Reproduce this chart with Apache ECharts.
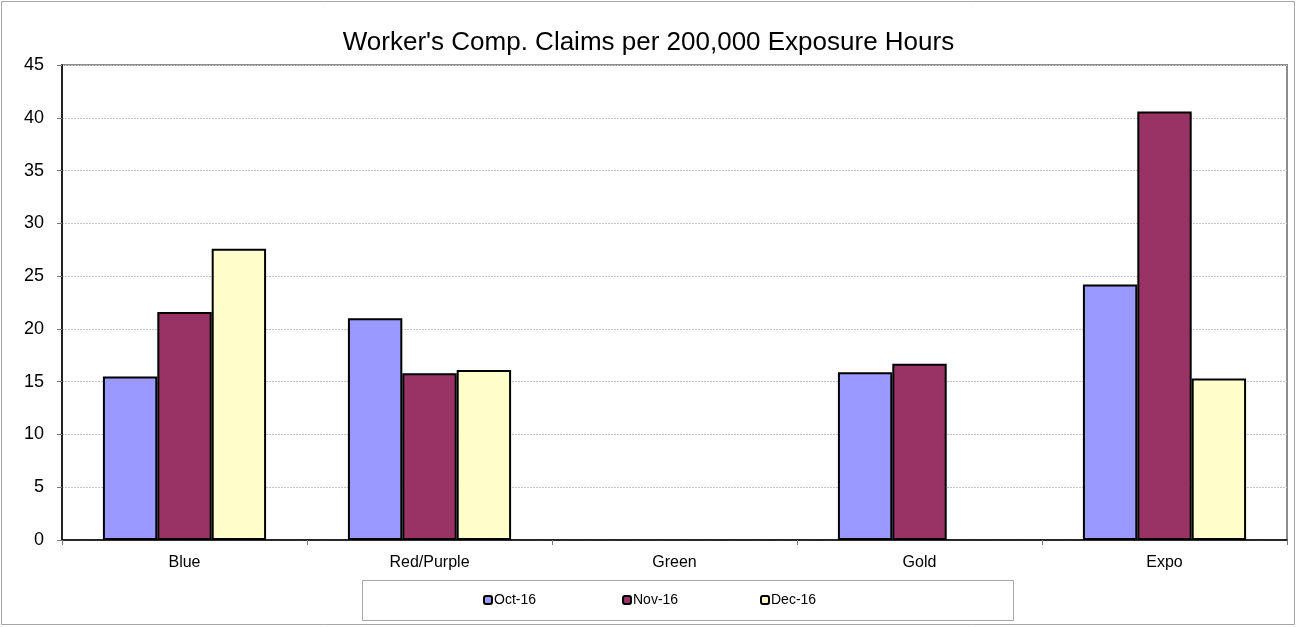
<!DOCTYPE html>
<html>
<head>
<meta charset="utf-8">
<title>Worker's Comp. Claims</title>
<script src="https://cdn.jsdelivr.net/npm/echarts@6/dist/echarts.min.js"></script>
<style>
  html, body { margin: 0; padding: 0; background: #fff; }
  #chart { width: 1297px; height: 627px; }
</style>
</head>
<body>
<div id="chart"></div>
<script>
// Departments along the x axis
const categories = ['Blue', 'Red/Purple', 'Green', 'Gold', 'Expo'];
// Claims per 200,000 exposure hours, one array per month (null = no bar)
const oct16 = [15.5, 21.0, null, 15.9, 24.2];
const nov16 = [21.6, 15.8, null, 16.7, 40.6];
const dec16 = [27.6, 16.1, null, null, 15.3];
const monthNames = ['Oct-16', 'Nov-16', 'Dec-16'];
const monthColors = ['#9999FF', '#993366', '#FFFFCC'];
const monthValues = [oct16, nov16, dec16];
const yTicks = { min: 0, max: 45, interval: 5 };

const font = 'Arial, "Liberation Sans", sans-serif';
const chart = echarts.init(document.getElementById('chart'));

const legendLefts = [483, 622, 760];

chart.setOption({
  animation: false,
  backgroundColor: '#fff',
  textStyle: { fontFamily: font, color: '#000' },
  title: {
    text: "Worker's Comp. Claims per 200,000 Exposure Hours",
    left: 'center',
    top: 25,
    textStyle: { fontFamily: font, fontSize: 26, fontWeight: 'normal', color: '#000' }
  },
  grid: {
    left: 62, right: 10, top: 65, bottom: 87,
    show: true, borderColor: '#8c8c8c', borderWidth: 2, backgroundColor: '#fff'
  },
  legend: monthNames.map((name, i) => ({
    data: [name],
    left: legendLefts[i],
    top: 593,
    itemWidth: 8,
    itemHeight: 8,
    itemGap: 0,
    padding: 0,
    textStyle: { fontFamily: font, fontSize: 14, color: '#000', padding: [0, 0, 0, -3] },
    selectedMode: false
  })),
  xAxis: {
    type: 'category',
    data: categories,
    axisLine: { lineStyle: { color: '#000', width: 1.5 } },
    axisTick: { show: true, alignWithLabel: false, length: 5, lineStyle: { color: '#777' } },
    axisLabel: { fontFamily: font, fontSize: 16, color: '#000', margin: 15 },
    splitLine: { show: false }
  },
  yAxis: {
    type: 'value',
    min: yTicks.min, max: yTicks.max, interval: yTicks.interval,
    axisLine: { show: true, lineStyle: { color: '#000', width: 1.5 } },
    axisTick: { show: true, length: 5, lineStyle: { color: '#777' } },
    axisLabel: { fontFamily: font, fontSize: 18, color: '#000', margin: 18 },
    splitLine: { show: true, lineStyle: { color: '#c4c4c4', type: [2, 1], width: 1 } }
  },
  series: monthNames.map((name, i) => ({
    name: name,
    type: 'bar',
    data: monthValues[i],
    barGap: '0%',
    barCategoryGap: '33.4%',
    itemStyle: { color: monthColors[i], borderColor: '#000', borderWidth: 2 }
  })),
  graphic: [
    {
      type: 'rect',
      shape: { x: 1.5, y: 1.5, width: 1293, height: 623 },
      style: { fill: 'none', stroke: '#a6a6a6', lineWidth: 1 },
      silent: true, z: -1
    },
    {
      type: 'rect',
      shape: { x: 362.5, y: 580.5, width: 651, height: 40 },
      style: { fill: '#fff', stroke: '#a6a6a6', lineWidth: 1 },
      silent: true, z: -1
    }
  ]
});
</script>
</body>
</html>
